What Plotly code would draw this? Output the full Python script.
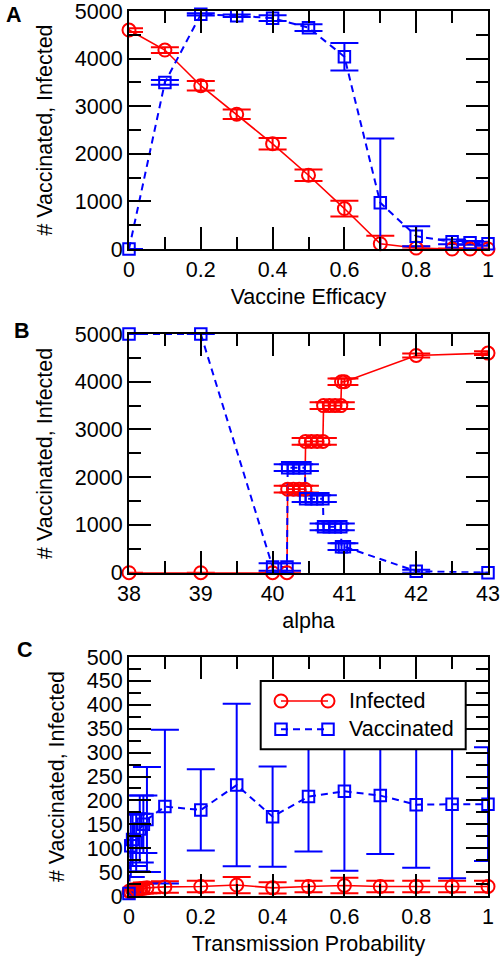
import plotly.graph_objects as go

# ---------------- Data ----------------
# Panel A: vaccine efficacy sweep
A_x = [0, 0.1, 0.2, 0.3, 0.4, 0.5, 0.6, 0.7, 0.8, 0.9, 0.95, 1.0]
A_infected = [4600, 4180, 3430, 2830, 2210, 1550, 850, 110, 20, 0, 0, 0]
A_infected_err = [40, 60, 100, 100, 120, 120, 165, 170, 30, 10, 10, 10]
A_vaccinated = [0, 3500, 4930, 4900, 4850, 4650, 4040, 970, 270, 150, 130, 110]
A_vaccinated_err = [0, 50, 25, 25, 60, 70, 290, 1350, 210, 50, 40, 40]

# Panel B: alpha sweep
B_x = [38, 39, 40, 40.2, 40.21, 40.29, 40.37, 40.45, 40.46, 40.54, 40.62, 40.7,
       40.71, 40.79, 40.87, 40.95, 40.96, 41.0, 42, 43]
B_infected = [0, 0, 0, 0, 1750, 1750, 1750, 1750, 2750, 2750, 2750, 2750,
              3500, 3500, 3500, 3500, 4000, 4000, 4550, 4600]
B_infected_err = [0, 0, 0, 0, 70, 70, 70, 70, 70, 70, 70, 70,
                  70, 70, 70, 70, 70, 70, 40, 40]
B_vaccinated = [5000, 5000, 120, 120, 2200, 2200, 2200, 2200, 1550, 1550, 1550, 1550,
                960, 960, 960, 960, 545, 545, 30, 0]
B_vaccinated_err = [0, 0, 80, 80, 70, 70, 70, 70, 70, 70, 70, 70,
                    70, 70, 70, 70, 70, 70, 30, 0]

# Panel C: transmission probability sweep
C_x = [0, 0.005, 0.01, 0.02, 0.03, 0.04, 0.05, 0.1, 0.2, 0.3, 0.4, 0.5, 0.6, 0.7, 0.8, 0.9, 1.0]
C_infected = [10, 8, 12, 14, 15, 16, 17, 19, 20, 23, 17, 20, 22, 20, 20, 20, 20]
C_infected_err = [6, 5, 8, 9, 10, 10, 11, 12, 12, 17, 12, 12, 16, 12, 12, 12, 12]
C_vaccinated = [5, 105, 118, 112, 140, 150, 160, 187, 180, 232, 166, 208, 219, 210, 191, 192, 192]
C_vaccinated_err = [3, 65, 55, 60, 70, 60, 110, 161, 85, 170, 105, 115, 166, 122, 132, 155, 119]

RED = "#ff0000"
BLUE = "#0000ff"
FONT = "Liberation Sans, Arial, Helvetica, sans-serif"
FS = 21.5

W, H = 503, 960


def px(x):
    return x / W


def py(y):
    return 1 - y / H


fig = go.Figure()

panels = [
    ("x", "y", A_x, A_infected, A_infected_err, A_vaccinated, A_vaccinated_err),
    ("x2", "y2", B_x, B_infected, B_infected_err, B_vaccinated, B_vaccinated_err),
    ("x3", "y3", C_x, C_infected, C_infected_err, C_vaccinated, C_vaccinated_err),
]

for xa, ya, xs, inf, inf_e, vac, vac_e in panels:
    # lines + error bars (clipped to plot area)
    fig.add_trace(go.Scatter(
        x=xs, y=inf, xaxis=xa, yaxis=ya, mode="lines", name="Infected",
        line=dict(color=RED, width=1.6),
        error_y=dict(type="data", array=inf_e, visible=True, color=RED, thickness=2, width=14),
        showlegend=False, cliponaxis=True))
    fig.add_trace(go.Scatter(
        x=xs, y=vac, xaxis=xa, yaxis=ya, mode="lines", name="Vaccinated",
        line=dict(color=BLUE, width=2, dash="7px,5px"),
        error_y=dict(type="data", array=vac_e, visible=True, color=BLUE, thickness=2, width=14),
        showlegend=False, cliponaxis=True))
    # markers (not clipped)
    fig.add_trace(go.Scatter(
        x=xs, y=inf, xaxis=xa, yaxis=ya, mode="markers", name="Infected",
        marker=dict(symbol="circle-open", size=13, color=RED, line=dict(color=RED, width=2)),
        showlegend=False, cliponaxis=False))
    fig.add_trace(go.Scatter(
        x=xs, y=vac, xaxis=xa, yaxis=ya, mode="markers", name="Vaccinated",
        marker=dict(symbol="square-open", size=11.5, color=BLUE, line=dict(color=BLUE, width=2)),
        showlegend=False, cliponaxis=False))

x_dom = [px(129), px(488)]
y_doms = [
    [py(249), py(11)],
    [py(572.7), py(334)],
    [py(896), py(657)],
]

common = dict(
    showline=True, linecolor="black", linewidth=2, mirror="ticks",
    ticks="inside", ticklen=22, tickwidth=2, tickcolor="black",
    showgrid=False, zeroline=False, automargin=False, ticklabeloverflow="allow",
    tickfont=dict(family=FONT, size=FS, color="black"),
    minor=dict(ticks="inside", ticklen=12, tickwidth=2, tickcolor="black", showgrid=False),
)

xcfg = [
    dict(range=[0, 1], dtick=0.2, tick0=0, minor_dtick=0.1, title_text="Vaccine Efficacy"),
    dict(range=[38, 43], dtick=1, tick0=38, minor_dtick=0.5, title_text="alpha"),
    dict(range=[0, 1], dtick=0.2, tick0=0, minor_dtick=0.1, title_text="Transmission Probability"),
]
ycfg = [
    dict(range=[0, 5000], dtick=1000, tick0=0, minor_dtick=500),
    dict(range=[0, 5000], dtick=1000, tick0=0, minor_dtick=500),
    dict(range=[0, 500], dtick=50, tick0=0, minor_dtick=25),
]

layout_axes = {}
for i in range(3):
    suffix = "" if i == 0 else str(i + 1)
    xc = dict(common)
    xc.update(domain=x_dom, anchor="y" + suffix,
              title=dict(text=xcfg[i]["title_text"], font=dict(family=FONT, size=FS, color="black"),
                         standoff=8),
              range=xcfg[i]["range"], dtick=xcfg[i]["dtick"], tick0=xcfg[i]["tick0"])
    xc["minor"] = dict(common["minor"], dtick=xcfg[i]["minor_dtick"])
    yc = dict(common)
    yc.update(domain=y_doms[i], anchor="x" + suffix,
              title=dict(text="# Vaccinated, Infected", font=dict(family=FONT, size=FS, color="black"),
                         standoff=16),
              range=ycfg[i]["range"], dtick=ycfg[i]["dtick"], tick0=ycfg[i]["tick0"],
              tickformat="d")
    yc["minor"] = dict(common["minor"], dtick=ycfg[i]["minor_dtick"])
    layout_axes["xaxis" + suffix] = xc
    layout_axes["yaxis" + suffix] = yc

fig.update_layout(**layout_axes)

# Panel letters
annotations = []
for letter, lx, ly in [("A", 4, 15), ("B", 12, 330.5), ("C", 15, 649.5)]:
    annotations.append(dict(text="<b>%s</b>" % letter, x=px(lx), y=py(ly), xref="paper", yref="paper",
                            xanchor="left", yanchor="middle", showarrow=False,
                            font=dict(family=FONT, size=FS, color="black")))

# Legend (panel C), drawn with shapes + text
shapes = []
shapes.append(dict(type="rect", xref="paper", yref="paper", x0=px(260.7), x1=px(465.7),
                   y0=py(749.3), y1=py(681), line=dict(color="black", width=2),
                   fillcolor="white", layer="above"))
r1, r2 = 701, 729.3
lx0, lx1 = 281, 328
shapes.append(dict(type="line", xref="paper", yref="paper", x0=px(lx0), x1=px(lx1),
                   y0=py(r1), y1=py(r1), line=dict(color=RED, width=1.6), layer="above"))
for cx in (lx0, lx1):
    shapes.append(dict(type="circle", xref="paper", yref="paper", x0=px(cx - 6.5), x1=px(cx + 6.5),
                       y0=py(r1 + 6.5), y1=py(r1 - 6.5), line=dict(color=RED, width=2), layer="above"))
shapes.append(dict(type="line", xref="paper", yref="paper", x0=px(lx0), x1=px(lx1),
                   y0=py(r2), y1=py(r2), line=dict(color=BLUE, width=2, dash="7px,5px"), layer="above"))
for cx in (lx0, lx1):
    shapes.append(dict(type="rect", xref="paper", yref="paper", x0=px(cx - 5.75), x1=px(cx + 5.75),
                       y0=py(r2 + 5.75), y1=py(r2 - 5.75), line=dict(color=BLUE, width=2), layer="above"))
for txt, ry in [("Infected", r1), ("Vaccinated", r2)]:
    annotations.append(dict(text=txt, x=px(347), y=py(ry), xref="paper", yref="paper",
                            xanchor="left", yanchor="middle", showarrow=False,
                            font=dict(family=FONT, size=FS, color="black")))

fig.update_layout(
    width=W, height=H,
    margin=dict(l=0, r=0, t=0, b=0),
    paper_bgcolor="white", plot_bgcolor="white",
    showlegend=False,
    annotations=annotations, shapes=shapes,
    font=dict(family=FONT, size=FS, color="black"),
)

# remove the default 8px page margin so the figure fills the window exactly
fig.write_html("out.html", config={"displayModeBar": False},
               post_script="document.body.style.margin='0px';")
